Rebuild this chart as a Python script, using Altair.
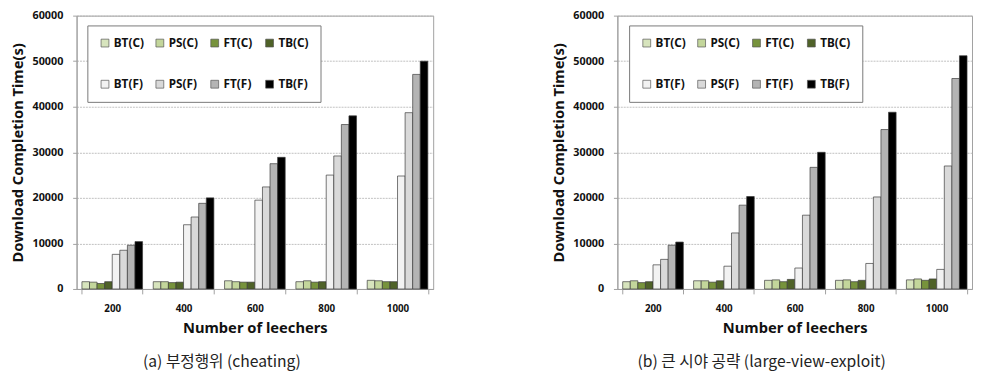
import altair as alt
import pandas as pd

leechers = ["200", "400", "600", "800", "1000"]
series = ["BT(C)", "PS(C)", "FT(C)", "TB(C)", "BT(F)", "PS(F)", "FT(F)", "TB(F)"]
colors = ["#d7e4bd", "#c3d69b", "#77933c", "#4f6228", "#f2f2f2", "#d9d9d9", "#b4b4b4", "#000000"]

# (a) cheating
cheat_bt_c = [1600, 1600, 1800, 1600, 1900]
cheat_ps_c = [1500, 1600, 1600, 1800, 1800]
cheat_ft_c = [1200, 1400, 1500, 1500, 1600]
cheat_tb_c = [1600, 1500, 1500, 1600, 1600]
cheat_bt_f = [7600, 14100, 19500, 25000, 24800]
cheat_ps_f = [8500, 15800, 22400, 29200, 38700]
cheat_ft_f = [9600, 18800, 27500, 36100, 47100]
cheat_tb_f = [10400, 20000, 28900, 38000, 50000]

# (b) large-view-exploit
lve_bt_c = [1600, 1800, 1900, 1900, 2000]
lve_ps_c = [1800, 1800, 2000, 2000, 2200]
lve_ft_c = [1400, 1500, 1600, 1600, 1900]
lve_tb_c = [1600, 1800, 2100, 1900, 2200]
lve_bt_f = [5300, 5000, 4600, 5600, 4300]
lve_ps_f = [6500, 12300, 16200, 20200, 27000]
lve_ft_f = [9600, 18400, 26700, 35000, 46200]
lve_tb_f = [10300, 20300, 30000, 38800, 51200]

cheat = [cheat_bt_c, cheat_ps_c, cheat_ft_c, cheat_tb_c, cheat_bt_f, cheat_ps_f, cheat_ft_f, cheat_tb_f]
lve = [lve_bt_c, lve_ps_c, lve_ft_c, lve_tb_c, lve_bt_f, lve_ps_f, lve_ft_f, lve_tb_f]

FONT = "Noto Sans"
KR = "Noto Sans CJK KR"


def panel(values, caption, width, lx):
    rows = []
    for s, vals in zip(series, values):
        for n, v in zip(leechers, vals):
            rows.append({"leechers": n, "series": s, "time": v})
    df = pd.DataFrame(rows)
    return alt.Chart(
        df,
        title=alt.TitleParams(
            caption, orient="bottom", anchor="middle", frame="bounds",
            font=KR, fontSize=16, fontWeight="normal", color="#222", offset=20,
        ),
    ).mark_bar(stroke="#3a3a3a", strokeWidth=0.7).encode(
        x=alt.X(
            "leechers:N", sort=leechers, title="Number of leechers",
            scale=alt.Scale(paddingInner=0.15, paddingOuter=0.075),
            axis=alt.Axis(labelAngle=0, tickBand="extent", labelFontSize=10,
                          labelPadding=10, titlePadding=7, tickSize=5),
        ),
        xOffset=alt.XOffset("series:N", sort=series,
                            scale=alt.Scale(paddingInner=0, paddingOuter=0)),
        y=alt.Y(
            "time:Q", title="Download Completion Time(s)",
            scale=alt.Scale(domain=[0, 60000], nice=False),
            axis=alt.Axis(values=[0, 10000, 20000, 30000, 40000, 50000, 60000],
                          format="d", labelFontSize=11, labelPadding=10, tickSize=4,
                          titlePadding=7, grid=True),
        ),
        color=alt.Color(
            "series:N", sort=series,
            scale=alt.Scale(domain=series, range=colors),
            legend=alt.Legend(
                title=None, orient="none", legendX=lx, legendY=10,
                direction="horizontal", columns=4, gridAlign="all",
                symbolType="square", symbolSize=64, symbolStrokeColor="#555",
                symbolStrokeWidth=0.7, labelFont=FONT, labelFontSize=12,
                labelFontWeight="bold", labelColor="#111", labelOffset=3,
                columnPadding=10, rowPadding=30, padding=12,
                strokeColor="#777", fillColor="white",
            ),
        ),
    ).properties(width=width, height=279)


left = panel(cheat, "(a) 부정행위 (cheating)", 364, 11)
right = panel(lve, "(b) 큰 시야 공략 (large-view-exploit)", 362, 12)

chart = alt.hconcat(left, right, spacing=119).resolve_scale(
    color="independent"
).resolve_legend(color="independent").properties(
    padding={"left": 2, "top": -3, "right": 0, "bottom": 0}
).configure_view(
    stroke="#a0a0a0", strokeWidth=1
).configure_axis(
    labelFont=FONT, labelFontWeight="bold", labelColor="#111",
    titleFont=FONT, titleFontWeight="bold", titleFontSize=15, titleColor="#111",
    domainColor="#a0a0a0", tickColor="#a0a0a0",
    gridColor="#b0b0b0", gridDash=[2, 1], gridWidth=0.8,
).configure_axisX(grid=False)

chart.save("out.html", embed_options={"renderer": "svg", "actions": False})
